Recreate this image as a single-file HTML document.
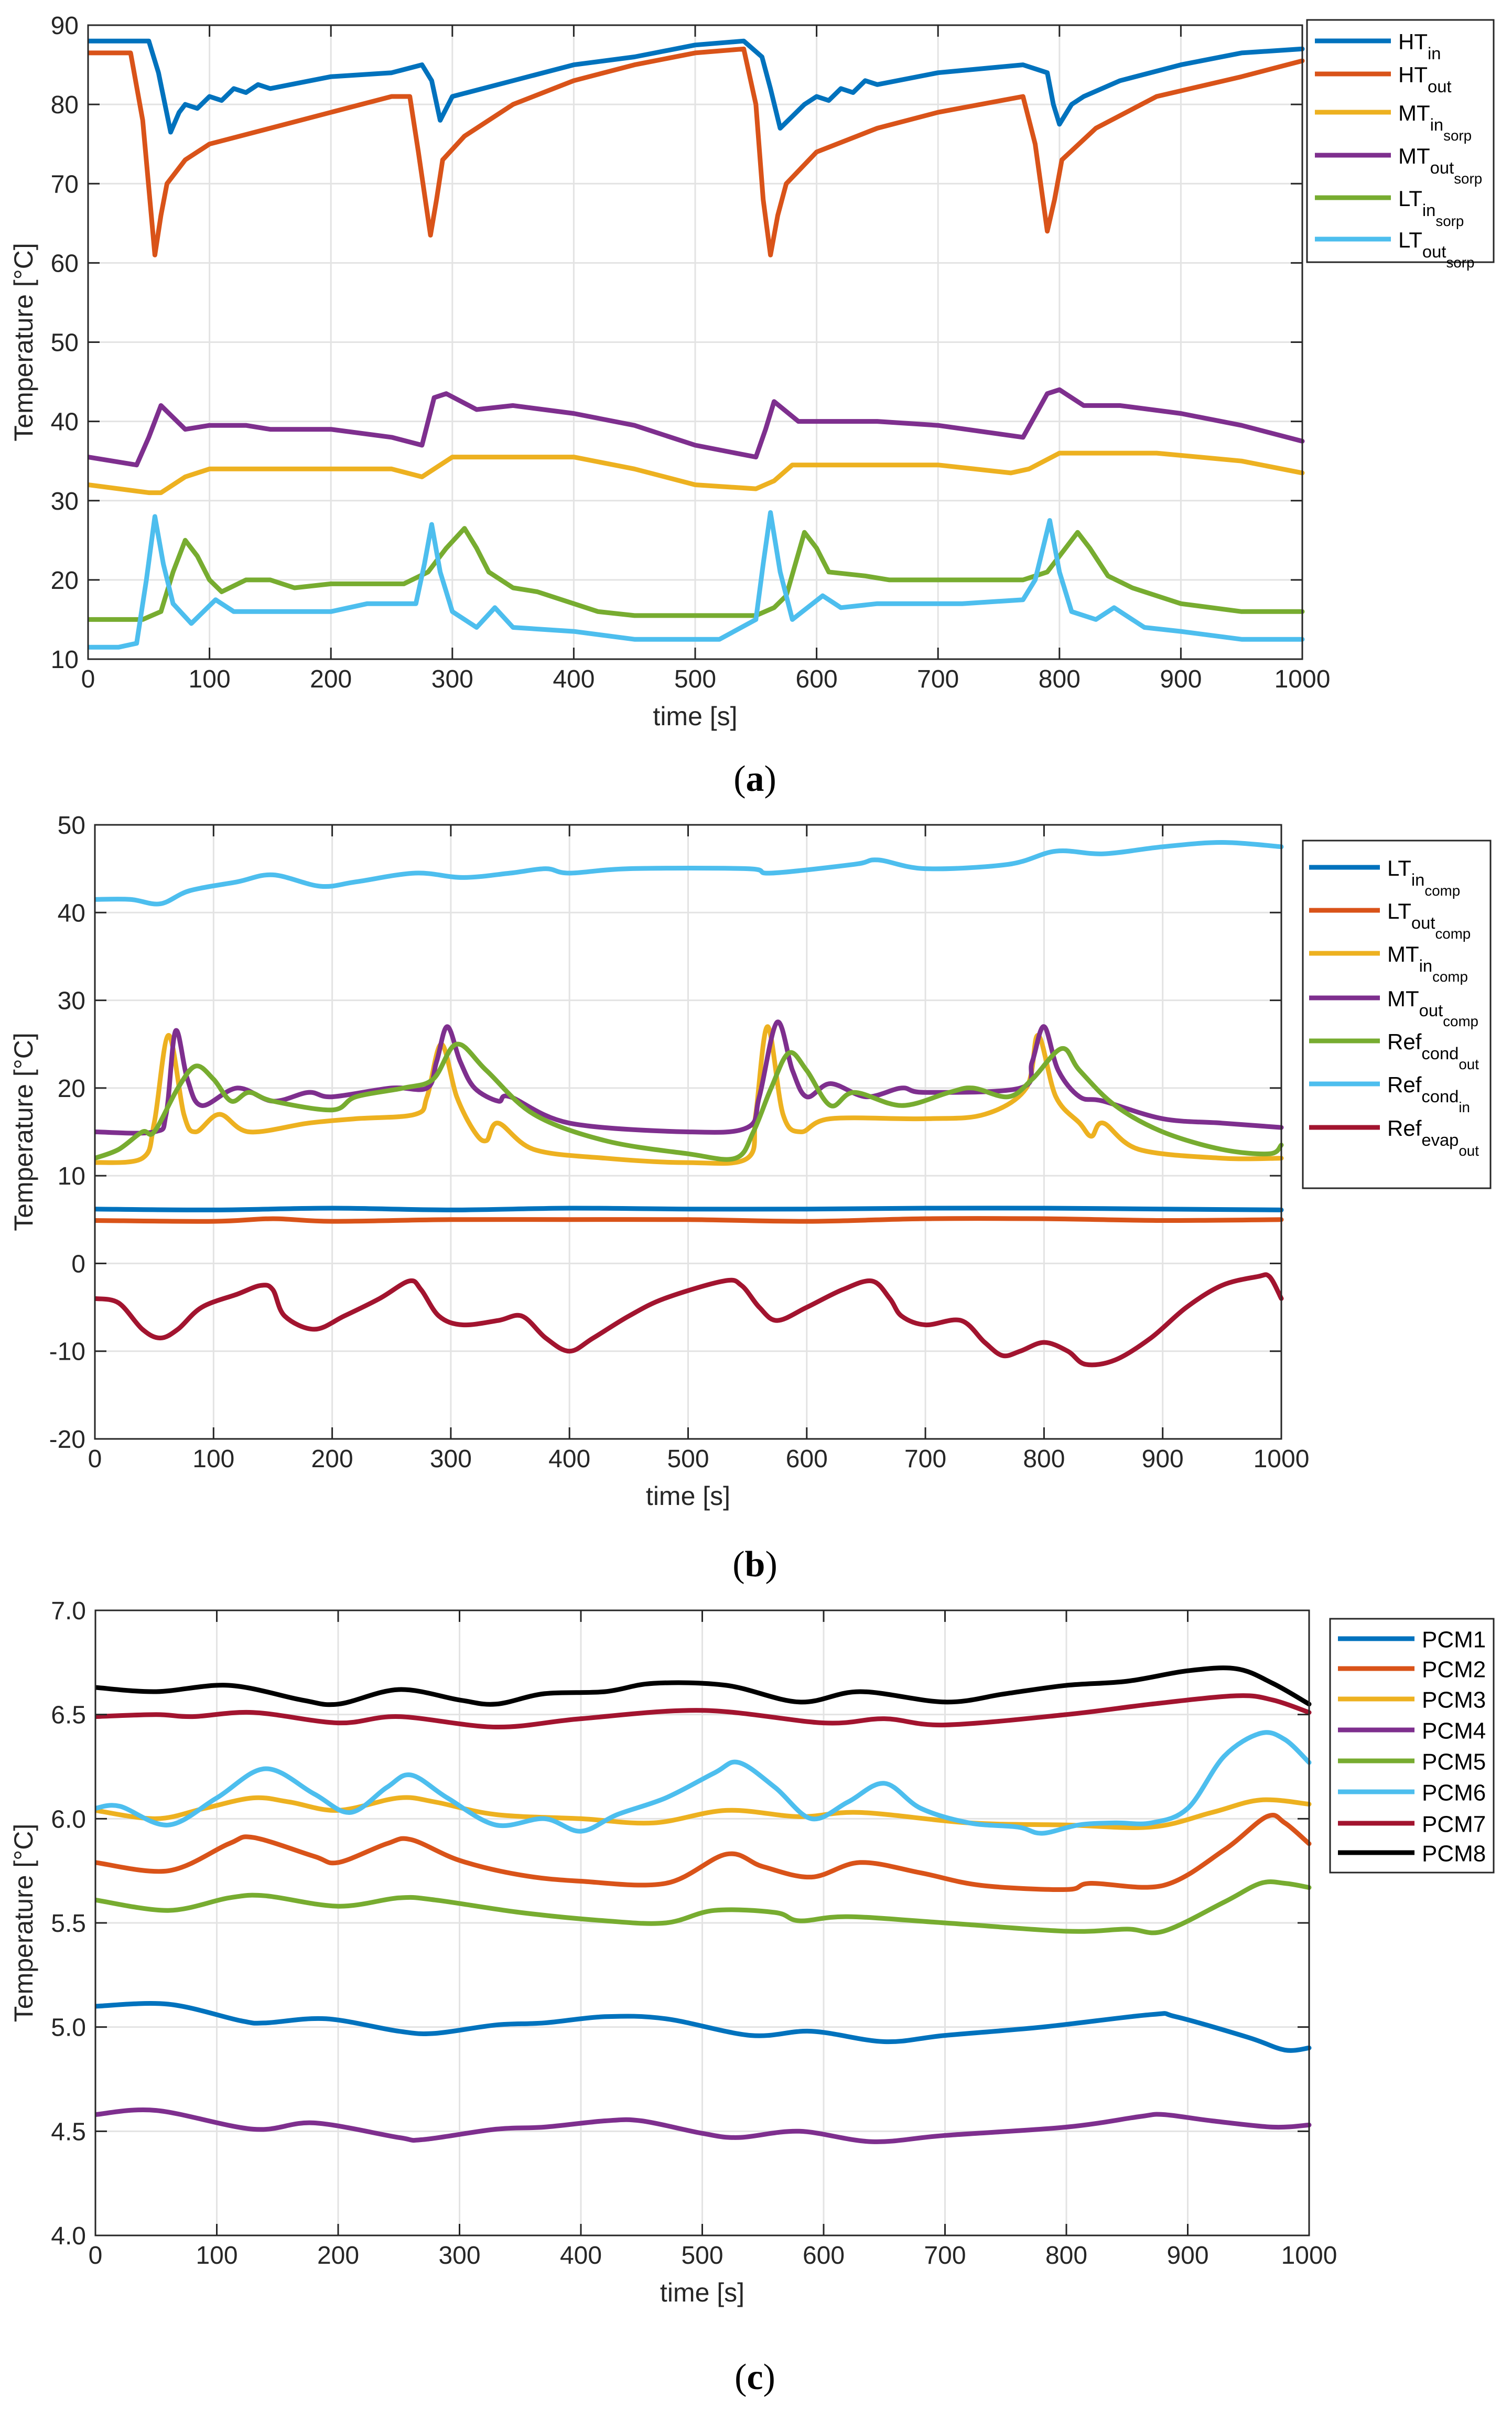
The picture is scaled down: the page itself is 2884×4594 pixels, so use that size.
<!DOCTYPE html>
<html><head><meta charset="utf-8"><style>
html,body{margin:0;padding:0;background:#fff;}
svg{display:block;font-family:"Liberation Sans",sans-serif;}
</style></head><body>
<svg id="fig" width="2884" height="4594" viewBox="0 0 2884 4594" xmlns="http://www.w3.org/2000/svg"></svg>
<script>
// ---------- Panel (a) data ----------
const aHTinT=[0,50,58,68,75,80,90,100,110,120,130,140,150,200,250,275,283,290,300,350,400,450,500,540,555,562,570,580,590,600,610,620,630,640,650,700,770,790,795,800,810,820,850,900,950,1000];
const aHTinV=[88,88,84,76.5,79,80,79.5,81,80.5,82,81.5,82.5,82,83.5,84,85,83,78,81,83,85,86,87.5,88,86,82,77,78.5,80,81,80.5,82,81.5,83,82.5,84,85,84,80,77.5,80,81,83,85,86.5,87];
const aHToutT=[0,35,45,55,60,65,80,100,150,200,250,265,272,282,287,292,310,350,400,450,500,540,550,556,562,568,575,600,650,700,770,780,790,796,802,830,880,950,1000];
const aHToutV=[86.5,86.5,78,61,66,70,73,75,77,79,81,81,74,63.5,68,73,76,80,83,85,86.5,87,80,68,61,66,70,74,77,79,81,75,64,68,73,77,81,83.5,85.5];
const aMTinT=[0,50,60,80,100,250,275,300,400,450,500,550,565,580,700,760,775,800,880,950,1000];
const aMTinV=[32,31,31,33,34,34,33,35.5,35.5,34,32,31.5,32.5,34.5,34.5,33.5,34,36,36,35,33.5];
const aMToutT=[0,40,50,60,80,100,130,150,200,250,275,285,295,320,350,400,450,500,550,558,565,585,600,650,700,770,790,800,820,850,900,950,1000];
const aMToutV=[35.5,34.5,38,42,39,39.5,39.5,39,39,38,37,43,43.5,41.5,42,41,39.5,37,35.5,39,42.5,40,40,40,39.5,38,43.5,44,42,42,41,39.5,37.5];
const aLTinT=[0,45,60,70,80,90,100,110,130,150,170,200,260,280,295,310,320,330,350,370,400,420,450,550,565,575,590,600,610,640,660,770,790,805,815,825,840,860,900,950,1000];
const aLTinV=[15,15,16,21,25,23,20,18.5,20,20,19,19.5,19.5,21,24,26.5,24,21,19,18.5,17,16,15.5,15.5,16.5,18,26,24,21,20.5,20,20,21,24,26,24,20.5,19,17,16,16];
const aLToutT=[0,25,40,48,55,62,70,85,105,120,150,200,230,270,277,283,290,300,320,335,350,400,450,520,550,556,562,570,580,605,620,650,720,770,780,792,800,810,830,845,870,900,950,1000];
const aLToutV=[11.5,11.5,12,20,28,22,17,14.5,17.5,16,16,16,17,17,22,27,21,16,14,16.5,14,13.5,12.5,12.5,15,22,28.5,21,15,18,16.5,17,17,17.5,20,27.5,21,16,15,16.5,14,13.5,12.5,12.5];

// ---------- Panel (b) data ----------
const bCondInT=[0,30,55,80,120,150,190,220,270,310,350,380,400,450,550,570,640,660,700,770,810,850,900,950,1000];
const bCondInV=[41.5,41.5,41,42.5,43.5,44.3,43,43.5,44.5,44,44.5,45,44.5,45,45,44.5,45.5,46,45,45.5,47,46.7,47.5,48,47.5];
const bLTinT=[0,100,200,300,400,500,600,700,800,900,1000];
const bLTinV=[6.2,6.1,6.3,6.1,6.3,6.2,6.2,6.3,6.3,6.2,6.1];
const bLToutT=[0,100,150,200,300,400,500,600,700,800,900,1000];
const bLToutV=[4.9,4.8,5.1,4.8,5,5,5,4.8,5.1,5.1,4.9,5];
const bMTinT=[0,40,50,62,75,85,105,130,180,220,270,280,292,305,320,330,340,370,430,500,550,557,567,580,595,620,700,750,785,795,810,830,840,850,880,950,1000];
const bMTinV=[11.5,12,16,26,17,15,17,15,16,16.5,17,19,25,19,15,14,16,13,12,11.5,12,17,27,17,15,16.5,16.5,17,20,26,19,16,14.5,16,13,12,12];
const bMToutT=[0,50,60,68,78,90,120,150,180,200,250,280,288,297,308,320,340,350,400,500,550,560,575,588,600,620,650,680,700,780,790,800,812,830,850,900,950,1000];
const bMToutV=[15,15,17,26.5,21,18,20,18.5,19.5,19,20,20,23,27,23,20,18.5,19,16,15,15.5,19,27.5,22,19,20.5,19,20,19.5,20,23,27,22,19,18.5,16.5,16,15.5];
const bCondOutT=[0,20,40,50,70,85,100,115,130,150,200,220,260,285,305,330,370,430,500,540,555,570,585,600,620,640,680,720,740,770,790,815,830,860,900,950,990,1000];
const bCondOutV=[12,13,15,15,20,22.5,21,18.5,19.5,18.5,17.5,19,20,21,25,22,17,14,12.5,12,15,20,24,22,18,19.5,18,19.5,20,19,21,24.5,22,18,15,13,12.5,13.5];
const bEvapT=[0,20,40,55,70,90,120,140,150,160,185,210,240,265,275,290,310,340,360,380,400,420,450,480,530,545,560,575,600,630,655,670,680,700,730,750,765,780,800,820,835,860,890,920,950,980,990,1000];
const bEvapV=[-4,-4.5,-7.5,-8.5,-7.5,-5,-3.5,-2.5,-3,-6,-7.5,-6,-4,-2,-3,-6,-7,-6.5,-6,-8.5,-10,-8.5,-6,-4,-2,-2.5,-5,-6.5,-5,-3,-2,-4,-6,-7,-6.5,-9,-10.5,-10,-9,-10,-11.5,-11,-8.5,-5,-2.5,-1.5,-1.5,-4];

// ---------- Panel (c) data ----------
const cP1T=[0,60,120,140,190,250,280,330,370,420,470,540,590,650,700,780,870,890,950,980,1000];
const cP1V=[5.10,5.11,5.03,5.02,5.04,4.98,4.97,5.01,5.02,5.05,5.04,4.96,4.98,4.93,4.96,5.00,5.06,5.05,4.95,4.89,4.90];
const cP2T=[0,60,110,130,180,200,240,260,300,350,400,470,520,550,590,630,680,730,800,820,880,930,965,980,1000];
const cP2V=[5.79,5.75,5.88,5.91,5.82,5.79,5.88,5.90,5.80,5.73,5.70,5.69,5.83,5.77,5.72,5.79,5.74,5.68,5.66,5.69,5.68,5.85,6.01,5.98,5.88];
const cP3T=[0,50,90,130,160,200,250,280,330,400,460,520,580,630,720,800,870,920,960,1000];
const cP3V=[6.04,6.00,6.05,6.10,6.08,6.04,6.10,6.08,6.02,6.00,5.98,6.04,6.01,6.03,5.98,5.97,5.96,6.03,6.09,6.07];
const cP4T=[0,50,130,180,250,270,330,370,420,450,500,530,580,640,700,800,860,880,920,970,1000];
const cP4V=[4.58,4.60,4.51,4.54,4.47,4.46,4.51,4.52,4.55,4.55,4.49,4.47,4.50,4.45,4.48,4.52,4.57,4.58,4.55,4.52,4.53];
const cP5T=[0,60,110,140,200,250,280,350,420,470,510,560,580,620,700,800,850,880,930,960,980,1000];
const cP5V=[5.61,5.56,5.62,5.63,5.58,5.62,5.61,5.55,5.51,5.50,5.56,5.55,5.51,5.53,5.50,5.46,5.47,5.46,5.60,5.69,5.69,5.67];
const cP6T=[0,20,60,100,140,180,210,240,260,290,330,370,400,430,470,510,530,560,590,620,650,680,720,760,780,810,840,870,900,930,960,980,1000];
const cP6V=[6.05,6.06,5.97,6.10,6.24,6.12,6.03,6.15,6.21,6.10,5.97,6.00,5.94,6.02,6.10,6.22,6.27,6.15,6.00,6.08,6.17,6.05,5.98,5.96,5.93,5.97,5.98,5.98,6.05,6.30,6.41,6.38,6.27];
const cP7T=[0,50,80,130,200,250,330,400,500,600,650,700,800,870,940,970,1000];
const cP7V=[6.49,6.50,6.49,6.51,6.46,6.49,6.44,6.48,6.52,6.46,6.48,6.45,6.50,6.55,6.59,6.57,6.51];
const cP8T=[0,50,110,170,200,250,300,330,370,420,460,520,580,630,700,750,800,850,900,940,970,1000];
const cP8V=[6.63,6.61,6.64,6.57,6.55,6.62,6.57,6.55,6.60,6.61,6.65,6.64,6.56,6.61,6.56,6.60,6.64,6.66,6.71,6.72,6.65,6.55];

const xTicks=[0,100,200,300,400,500,600,700,800,900,1000];
const aYTicks=[10,20,30,40,50,60,70,80,90];
const bYTicks=[-20,-10,0,10,20,30,40,50];
const cYTicks=[4.0,4.5,5.0,5.5,6.0,6.5,7.0];

const NS='http://www.w3.org/2000/svg';
const svg=document.getElementById('fig');
function mk(tag,attrs,parent){const e=document.createElementNS(NS,tag);for(const k in attrs)e.setAttribute(k,attrs[k]);(parent||svg).appendChild(e);return e;}

const C={blue:'#0072BD',orange:'#D95319',yellow:'#EDB120',purple:'#7E2F8E',green:'#77AC30',cyan:'#4DBEEE',red:'#A2142F',black:'#000000'};

function panel(p){
  const g=mk('g',{});
  
  
  const sx=v=>p.L+(v-0)/(1000-0)*(p.R-p.L);
  const sy=v=>p.B-(v-p.ymin)/(p.ymax-p.ymin)*(p.B-p.T);
  xTicks.forEach(t=>{const l=mk('line',{x1:sx(t),x2:sx(t),y1:p.T,y2:p.B,stroke:'#e3e3e3','stroke-width':3},g);
    });
  p.yTicks.forEach(t=>{const l=mk('line',{x1:p.L,x2:p.R,y1:sy(t),y2:sy(t),stroke:'#e3e3e3','stroke-width':3},g);
    });
  const clipId='clip'+p.id;
  const cp=mk('clipPath',{id:clipId},g);mk('rect',{x:p.L,y:p.T-6,width:p.R-p.L+6,height:p.B-p.T+12},cp);
  p.series.forEach(s=>{
    const pts=s.t.map((t,i)=>[sx(t),sy(s.v[i])]);
    let d='M'+pts[0][0].toFixed(1)+','+pts[0][1].toFixed(1);
    if(p.smooth){
      for(let i=0;i<pts.length-1;i++){
        const p0=pts[Math.max(0,i-1)],p1=pts[i],p2=pts[i+1],p3=pts[Math.min(pts.length-1,i+2)];
        const k=1/6;
        const c1=[p1[0]+(p2[0]-p0[0])*k,p1[1]+(p2[1]-p0[1])*k];
        const c2=[p2[0]-(p3[0]-p1[0])*k,p2[1]-(p3[1]-p1[1])*k];
        d+=' C'+c1.map(n=>n.toFixed(1)).join(',')+' '+c2.map(n=>n.toFixed(1)).join(',')+' '+p2.map(n=>n.toFixed(1)).join(',');
      }
    } else {for(let i=1;i<pts.length;i++)d+=' L'+pts[i][0].toFixed(1)+','+pts[i][1].toFixed(1);}
    const path=mk('path',{d:d,fill:'none',stroke:s.c,'stroke-width':9,'stroke-linejoin':'round','stroke-linecap':'round','clip-path':'url(#'+clipId+')'},g);
    
    
  });
  const box=mk('rect',{x:p.L,y:p.T,width:p.R-p.L,height:p.B-p.T,fill:'none',stroke:'#262626','stroke-width':3},g);
  
  xTicks.forEach(t=>{
    mk('line',{x1:sx(t),x2:sx(t),y1:p.B,y2:p.B-22,stroke:'#262626','stroke-width':3},g);
    mk('line',{x1:sx(t),x2:sx(t),y1:p.T,y2:p.T+22,stroke:'#262626','stroke-width':3},g);
    const tx=mk('text',{x:sx(t),y:p.B+54,'text-anchor':'middle','font-size':48,fill:'#262626'},g);tx.textContent=t;
    
  });
  p.yTicks.forEach(t=>{
    mk('line',{x1:p.L,x2:p.L+22,y1:sy(t),y2:sy(t),stroke:'#262626','stroke-width':3},g);
    mk('line',{x1:p.R,x2:p.R-22,y1:sy(t),y2:sy(t),stroke:'#262626','stroke-width':3},g);
    const ty=mk('text',{x:p.L-18,y:sy(t)+17,'text-anchor':'end','font-size':48,fill:'#262626'},g);ty.textContent=p.fmt(t);
    
  });
  const xt=mk('text',{x:(p.L+p.R)/2,y:p.B+126,'text-anchor':'middle','font-size':50,fill:'#262626'},g);xt.textContent='time [s]';
  
  const cy=(p.T+p.B)/2;
  const yt=mk('text',{x:62,y:cy,'text-anchor':'middle','font-size':50,fill:'#262626',transform:'rotate(-90 62 '+cy+')'},g);yt.textContent='Temperature [°C]';
  
  const lg=mk('g',{},g);
  
  mk('rect',{x:p.lg.x,y:p.lg.y,width:p.lg.w,height:p.lg.h,fill:'#fff',stroke:'#262626','stroke-width':3},lg);
  p.series.forEach((s,i)=>{
    const ly=p.lg.ys[i];
    const e=mk('g',{},lg);
    
    mk('line',{x1:p.lg.lx1,x2:p.lg.lx2,y1:ly,y2:ly,stroke:s.c,'stroke-width':9},e);
    const fs=p.lg.fs;
    const t=mk('text',{x:p.lg.tx,y:ly+fs*0.38,'font-size':fs,fill:'#000'},e);
    const a=mk('tspan',{},t);a.textContent=s.label[0];
    if(s.label[1]){const b=mk('tspan',{dy:fs*0.45,'font-size':fs*0.78},t);b.textContent=s.label[1];}
    if(s.label[2]){const c=mk('tspan',{dy:fs*0.45,'font-size':fs*0.66},t);c.textContent=s.label[2];}
  });
  const cap=mk('text',{x:1440,y:p.capY,'text-anchor':'middle','font-size':70,'font-family':'Liberation Serif, serif',fill:'#000'},g);
  
  const c1=mk('tspan',{},cap);c1.textContent='(';
  const c2=mk('tspan',{'font-weight':'bold'},cap);c2.textContent=p.cap;
  const c3=mk('tspan',{},cap);c3.textContent=')';
}

panel({id:'a',name:'panel-a-sorption-temperatures',L:168,R:2484,T:48,B:1257,ymin:10,ymax:90,yTicks:aYTicks,fmt:v=>String(v),smooth:false,cap:'a',capY:1508,
  lg:{x:2493,y:38,w:356,h:462,lx1:2508,lx2:2653,tx:2667,fs:42,ys:[78,141,214,296,377,456]},
  series:[
    {key:'ht-in',t:aHTinT,v:aHTinV,c:C.blue,label:['HT','in']},
    {key:'ht-out',t:aHToutT,v:aHToutV,c:C.orange,label:['HT','out']},
    {key:'mt-in-sorp',t:aMTinT,v:aMTinV,c:C.yellow,label:['MT','in','sorp']},
    {key:'mt-out-sorp',t:aMToutT,v:aMToutV,c:C.purple,label:['MT','out','sorp']},
    {key:'lt-in-sorp',t:aLTinT,v:aLTinV,c:C.green,label:['LT','in','sorp']},
    {key:'lt-out-sorp',t:aLToutT,v:aLToutV,c:C.cyan,label:['LT','out','sorp']}
  ]});

panel({id:'b',name:'panel-b-compression-temperatures',L:181,R:2444,T:1573,B:2744,ymin:-20,ymax:50,yTicks:bYTicks,fmt:v=>String(v),smooth:true,cap:'b',capY:3006,
  lg:{x:2485,y:1603,w:358,h:663,lx1:2497,lx2:2632,tx:2646,fs:42,ys:[1654,1736,1818,1903,1985,2067,2150]},
  series:[
    {key:'lt-in-comp',t:bLTinT,v:bLTinV,c:C.blue,label:['LT','in','comp']},
    {key:'lt-out-comp',t:bLToutT,v:bLToutV,c:C.orange,label:['LT','out','comp']},
    {key:'mt-in-comp',t:bMTinT,v:bMTinV,c:C.yellow,label:['MT','in','comp']},
    {key:'mt-out-comp',t:bMToutT,v:bMToutV,c:C.purple,label:['MT','out','comp']},
    {key:'ref-cond-out',t:bCondOutT,v:bCondOutV,c:C.green,label:['Ref','cond','out']},
    {key:'ref-cond-in',t:bCondInT,v:bCondInV,c:C.cyan,label:['Ref','cond','in']},
    {key:'ref-evap-out',t:bEvapT,v:bEvapV,c:C.red,label:['Ref','evap','out']}
  ]});

panel({id:'c',name:'panel-c-pcm-temperatures',L:182,R:2497,T:3071,B:4263,ymin:4.0,ymax:7.0,yTicks:cYTicks,fmt:v=>v.toFixed(1),smooth:true,cap:'c',capY:4556,
  lg:{x:2537,y:3087,w:312,h:484,lx1:2552,lx2:2698,tx:2712,fs:44,ys:[3125,3182,3240,3299,3358,3417,3477,3533]},
  series:[
    {key:'pcm1',t:cP1T,v:cP1V,c:C.blue,label:['PCM1']},
    {key:'pcm2',t:cP2T,v:cP2V,c:C.orange,label:['PCM2']},
    {key:'pcm3',t:cP3T,v:cP3V,c:C.yellow,label:['PCM3']},
    {key:'pcm4',t:cP4T,v:cP4V,c:C.purple,label:['PCM4']},
    {key:'pcm5',t:cP5T,v:cP5V,c:C.green,label:['PCM5']},
    {key:'pcm6',t:cP6T,v:cP6V,c:C.cyan,label:['PCM6']},
    {key:'pcm7',t:cP7T,v:cP7V,c:C.red,label:['PCM7']},
    {key:'pcm8',t:cP8T,v:cP8V,c:C.black,label:['PCM8']}
  ]});
</script>
</body></html>
